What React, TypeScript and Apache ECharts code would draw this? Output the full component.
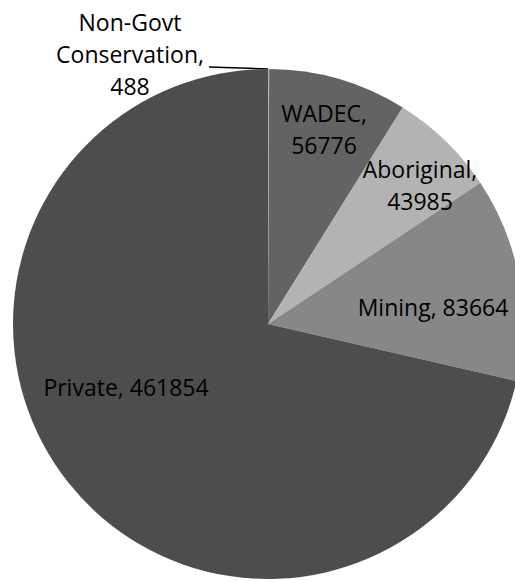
import React, { useEffect, useRef } from "react";
import * as echarts from "echarts";

const categories = ["Non-Govt Conservation", "WADEC", "Aboriginal", "Mining", "Private"];
const values = [488, 56776, 43985, 83664, 461854];

const sliceColors = ["#b0b0b0", "#636363", "#b3b3b3", "#878787", "#4d4d4d"];
const singleLine = ["Mining", "Private"];
// label centres (px) for each slice, in the same order as categories
const labelCentres: [number, number][] = [
  [130, 54],
  [324, 129],
  [420, 185],
  [433, 307],
  [126, 387],
];
// leader line for the tiny slice: from slice edge to the label
const leaderLine: [number, number][] = [
  [268, 69],
  [240, 68],
  [209, 67],
];

export default function App() {
  const ref = useRef<HTMLDivElement>(null);
  useEffect(() => {
    if (!ref.current) return;
    const chart = echarts.init(ref.current, undefined, { renderer: "svg" });
    chart.setOption({
      animation: false,
      backgroundColor: "#ffffff",
      series: [
        {
          type: "pie",
          center: [268, 324],
          radius: 255,
          startAngle: 90,
          clockwise: true,
          avoidLabelOverlap: false,
          minAngle: 0,
          label: {
            show: true,
            position: "inside",
            color: "#000000",
            fontFamily: "Open Sans",
            fontSize: 23,
            lineHeight: 32,
            formatter: (p: any) =>
              singleLine.includes(p.name)
                ? `${p.name}, ${p.value}`
                : `${p.name.replace(" ", "\n")},\n${p.value}`,
          },
          labelLine: { show: false },
          labelLayout: (params: any) => {
            const c = labelCentres[params.dataIndex];
            const out: any = { x: c[0], y: c[1], align: "center", verticalAlign: "middle" };
            if (params.dataIndex === 0) out.labelLinePoints = leaderLine;
            return out;
          },
          itemStyle: { borderWidth: 0 },
          emphasis: { disabled: true },
          data: categories.map((name, i) => ({
            name,
            value: values[i],
            itemStyle: { color: sliceColors[i] },
            ...(i === 0
              ? {
                  label: { position: "outside" },
                  labelLine: {
                    show: true,
                    length: 5,
                    length2: 40,
                    smooth: false,
                    lineStyle: { color: "#000000", width: 1.5 },
                  },
                }
              : {}),
          })),
        },
      ],
    });
    return () => chart.dispose();
  }, []);
  return (
    <div
      ref={ref}
      style={{ position: "absolute", left: 0, top: 0, width: 515, height: 581 }}
    />
  );
}
